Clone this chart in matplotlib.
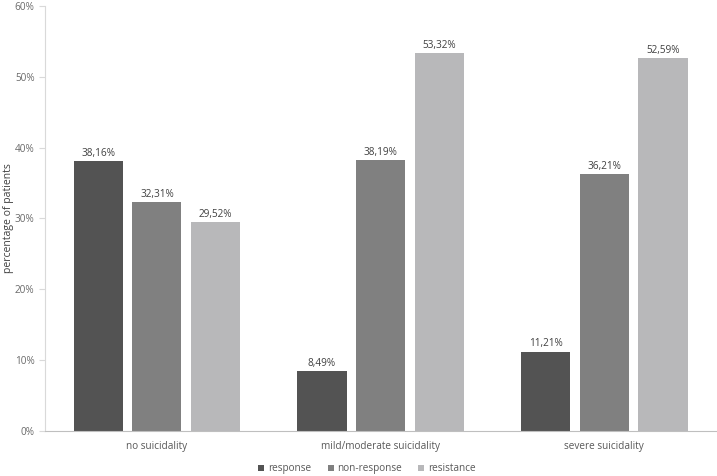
import matplotlib
matplotlib.use("Agg")
import matplotlib.pyplot as plt
import numpy as np
from matplotlib.ticker import FuncFormatter, MultipleLocator

categories = ["no suicidality", "mild/moderate suicidality", "severe suicidality"]
series_names = ["response", "non-response", "resistance"]
response = [38.16, 8.49, 11.21]
non_response = [32.31, 38.19, 36.21]
resistance = [29.52, 53.32, 52.59]
colors = ["#535353", "#808080", "#b8b8ba"]

plt.rcParams['font.family'] = ['Open Sans', 'DejaVu Sans']
fig = plt.figure(figsize=(7.17, 4.76), dpi=100)
ax = fig.add_axes([0.0628, 0.0945, 0.936, 0.893])

x = np.arange(len(categories))
w = 0.22
step = 0.262
txt = "#595959"
for i, (vals, name, c) in enumerate(zip([response, non_response, resistance], series_names, colors)):
    pos = x + (i - 1) * step
    bars = ax.bar(pos, vals, width=w, color=c, label=name)
    for p, v in zip(pos, vals):
        ax.text(p, v + 0.3, f"{v:.2f}%".replace(".", ","), ha="center", va="bottom",
                fontsize=7.2, color="#404040")

ax.set_xlim(-0.5, 2.5)
ax.set_ylim(0, 60)
ax.yaxis.set_major_locator(MultipleLocator(10))
ax.yaxis.set_major_formatter(FuncFormatter(lambda v, p: f"{int(v)}%"))
ax.set_xticks(x)
ax.set_xticklabels(categories)
ax.tick_params(axis="x", length=0, labelsize=7.2, colors=txt, pad=7)
ax.tick_params(axis="y", length=4, labelsize=7.2, colors="#6a6a6a", width=0.8, color="#d9d9d9")
for s in ["top", "right"]:
    ax.spines[s].set_visible(False)
ax.spines["left"].set_color("#d9d9d9")
ax.spines["bottom"].set_color("#bfbfbf")
ax.set_ylabel("percentage of patients", fontsize=7.5, color="#404040")
ax.yaxis.set_label_coords(-0.046, 0.5)

ax.legend(loc="upper center", bbox_to_anchor=(0.48, -0.055), ncol=3, frameon=False,
          fontsize=7.2, handlelength=0.6, handleheight=0.6, handletextpad=0.4,
          columnspacing=1.6, labelcolor=txt)

fig.savefig("out.png", dpi=100)
